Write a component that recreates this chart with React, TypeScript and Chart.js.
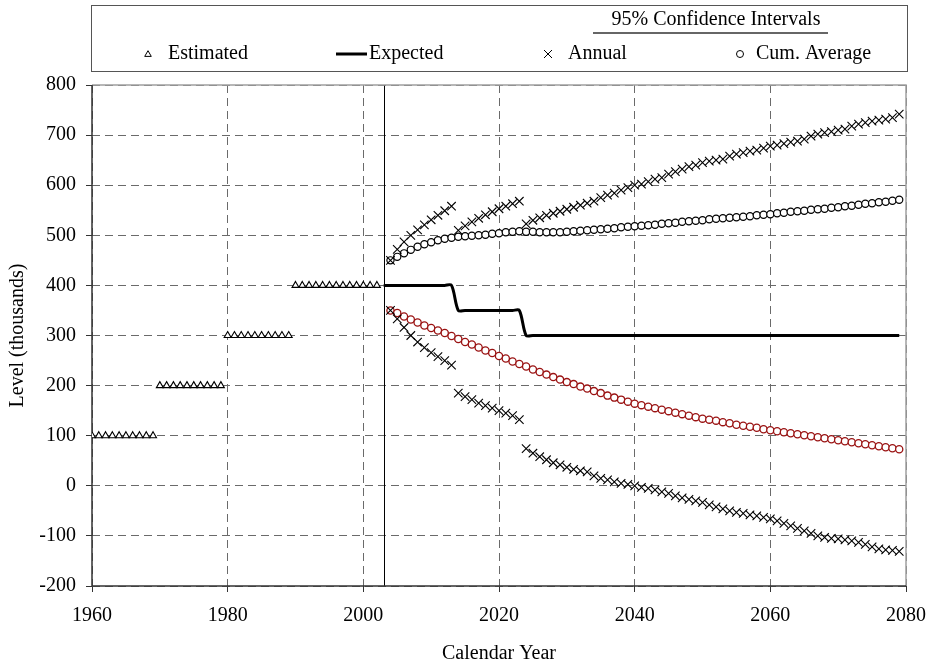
import React, { useEffect, useRef } from "react";
import { Chart, registerables } from "chart.js";

Chart.register(...registerables);

const FONT = '"Liberation Serif", "Times New Roman", Times, serif';

// ---- Axis / tick labels ----
const X_MIN = 1960;
const X_MAX = 2080;
const X_STEP = 20;
const Y_MIN = -200;
const Y_MAX = 800;
const Y_STEP = 100;
const X_TITLE = "Calendar Year";
const Y_TITLE = "Level (thousands)";
const CI_HEADER = "95% Confidence Intervals";
const PROJECTION_YEAR = 2003;

// ---- Series ----
const ESTIMATED_START = 1960;
const estimated = [
  100, 100, 100, 100, 100, 100, 100, 100, 100, 100,
  200, 200, 200, 200, 200, 200, 200, 200, 200, 200,
  300, 300, 300, 300, 300, 300, 300, 300, 300, 300,
  400, 400, 400, 400, 400, 400, 400, 400, 400, 400, 400, 400, 400,
];

const EXPECTED_START = 2003;
const expected = [
  400, 400, 400, 400, 400, 400, 400, 400, 400, 400, 400,
  350, 350, 350, 350, 350, 350, 350, 350, 350, 350,
  300, 300, 300, 300, 300, 300, 300, 300, 300, 300,
  300, 300, 300, 300, 300, 300, 300, 300, 300, 300,
  300, 300, 300, 300, 300, 300, 300, 300, 300, 300,
  300, 300, 300, 300, 300, 300, 300, 300, 300, 300,
  300, 300, 300, 300, 300, 300, 300, 300, 300, 300,
  300, 300, 300, 300, 300, 300,
];

const CI_START = 2004;
const annualUpper = [
  450, 472, 487, 500, 511, 521, 531, 540, 549, 558,
  510, 519, 527, 534, 541, 547, 553, 558, 563, 568,
  523, 530, 535, 540, 544, 548, 552, 556, 560, 564,
  568, 575, 580, 584, 590, 595, 600, 602, 607, 612,
  615, 622, 627, 632, 637, 640, 645, 648, 650, 652,
  658, 662, 665, 668, 670, 674, 678, 680, 683, 686,
  688, 692, 698, 702, 705, 707, 710, 712, 718, 722,
  725, 728, 730, 732, 735, 742,
];
const annualLower = [
  350, 333, 316, 300, 287, 276, 266, 258, 250, 241,
  185, 178, 172, 165, 160, 155, 150, 145, 140, 132,
  74, 65, 58, 52, 46, 42, 37, 33, 30, 28,
  20, 15, 12, 8, 5, 3, 0, -3, -5, -8,
  -12, -15, -20, -24, -27, -30, -33, -38, -42, -46,
  -50, -53, -55, -58, -60, -63, -66, -70, -75, -80,
  -85, -90, -95, -100, -103, -105, -106, -108, -110, -113,
  -117, -122, -126, -128, -129, -131,
];
const cumUpper = [
  450, 457, 464, 471, 477, 482, 486, 490, 493, 495,
  497, 498, 499, 500, 501, 503, 504, 506, 507, 508,
  507, 507, 506, 506, 506, 506, 507, 508, 509, 510,
  511, 512, 513, 514, 516, 517, 518, 519, 520, 521,
  523, 524, 525, 527, 528, 529, 530, 532, 533, 534,
  535, 536, 537, 538, 540, 541, 542, 544, 545, 547,
  548, 549, 551, 552, 553, 555, 556, 558, 559, 561,
  563, 564, 566, 567, 569, 571,
];
const cumLower = [
  350, 345, 338, 332, 326, 320, 315, 310, 305, 299,
  293, 287, 282, 276, 270, 265, 259, 254, 248, 243,
  238, 232, 227, 222, 217, 212, 207, 203, 198, 194,
  189, 185, 180, 176, 172, 168, 164, 161, 158, 155,
  152, 149, 146, 143, 140, 137, 134, 132, 130, 127,
  125, 122, 120, 118, 116, 113, 111, 109, 107, 105,
  103, 101, 99, 97, 95, 93, 91, 89, 87, 85,
  83, 81, 79, 77, 75, 73,
];

const toPoints = (start: number, values: number[]) =>
  values.map((v, i) => ({ x: start + i, y: v }));

const BLACK = "#000000";
const DARK_RED = "#9a1212";

function drawTri(ctx: CanvasRenderingContext2D, x: number, y: number, r: number) {
  ctx.beginPath();
  ctx.moveTo(x, y - r);
  ctx.lineTo(x + r * 0.866, y + r * 0.5);
  ctx.lineTo(x - r * 0.866, y + r * 0.5);
  ctx.closePath();
  ctx.fillStyle = "#fff";
  ctx.fill();
  ctx.stroke();
}

const framePlugin = {
  id: "frameAndMarker",
  beforeDatasetsDraw(chart: any) {
    const { ctx, chartArea, scales } = chart;
    const { left, right, top, bottom } = chartArea;
    ctx.save();
    const px = Math.round(scales.x.getPixelForValue(PROJECTION_YEAR)) + 0.5;
    ctx.strokeStyle = "#000";
    ctx.lineWidth = 1;
    ctx.setLineDash([]);
    ctx.beginPath();
    ctx.moveTo(px, top);
    ctx.lineTo(px, bottom);
    ctx.stroke();
    ctx.strokeStyle = "#a0a0a0";
    ctx.lineWidth = 1.5;
    ctx.beginPath();
    ctx.moveTo(left, top);
    ctx.lineTo(right, top);
    ctx.lineTo(right, bottom);
    ctx.stroke();
    ctx.strokeStyle = "#333";
    ctx.lineWidth = 1.5;
    ctx.beginPath();
    ctx.moveTo(left, top);
    ctx.lineTo(left, bottom);
    ctx.lineTo(right, bottom);
    ctx.stroke();
    ctx.restore();
  },
};

const legendPlugin = {
  id: "customLegend",
  afterDraw(chart: any) {
    const ctx: CanvasRenderingContext2D = chart.ctx;
    const ds = chart.data.datasets;
    ctx.save();
    ctx.setLineDash([]);
    ctx.strokeStyle = "#555";
    ctx.lineWidth = 1;
    ctx.strokeRect(91.5, 5.5, 816, 66);

    ctx.font = `20px ${FONT}`;
    ctx.fillStyle = "#000";
    ctx.textBaseline = "middle";
    ctx.textAlign = "center";
    ctx.fillText(CI_HEADER, 716, 20);
    ctx.strokeStyle = "#666";
    ctx.lineWidth = 2;
    ctx.beginPath();
    ctx.moveTo(593, 33);
    ctx.lineTo(828, 33);
    ctx.stroke();

    const y = 54;
    ctx.textAlign = "left";
    ctx.strokeStyle = "#000";
    ctx.lineWidth = 1;
    drawTri(ctx, 148, y + 0.5, 3.8);
    ctx.fillStyle = "#000";
    ctx.fillText(ds[0].label, 168, y);
    ctx.lineWidth = 3;
    ctx.beginPath();
    ctx.moveTo(336, y);
    ctx.lineTo(367, y);
    ctx.stroke();
    ctx.fillText(ds[1].label, 369, y);
    ctx.lineWidth = 1;
    ctx.beginPath();
    ctx.moveTo(544, y - 4);
    ctx.lineTo(552, y + 4);
    ctx.moveTo(552, y - 4);
    ctx.lineTo(544, y + 4);
    ctx.stroke();
    ctx.fillText(ds[2].label, 568, y);
    ctx.beginPath();
    ctx.arc(740, y, 3.5, 0, Math.PI * 2);
    ctx.stroke();
    ctx.fillText(ds[4].label, 756, y);
    ctx.restore();
  },
};

export default function App() {
  const ref = useRef<HTMLCanvasElement | null>(null);

  useEffect(() => {
    if (!ref.current) return;
    const chart = new Chart(ref.current, {
      type: "line",
      data: {
        datasets: [
          {
            label: "Estimated",
            data: toPoints(ESTIMATED_START, estimated),
            showLine: false,
            pointStyle: "triangle",
            pointRadius: 4,
            pointBorderWidth: 1.1,
            borderColor: BLACK,
            backgroundColor: "#ffffff",
          },
          {
            label: "Expected",
            data: toPoints(EXPECTED_START, expected),
            borderColor: BLACK,
            borderWidth: 3,
            pointRadius: 0,
            tension: 0.3,
            fill: false,
          },
          {
            label: "Annual",
            data: toPoints(CI_START, annualUpper),
            showLine: false,
            pointStyle: "crossRot",
            pointRadius: 6,
            pointBorderWidth: 1.1,
            borderColor: BLACK,
            backgroundColor: BLACK,
          },
          {
            label: "Annual (lower)",
            data: toPoints(CI_START, annualLower),
            showLine: false,
            pointStyle: "crossRot",
            pointRadius: 6,
            pointBorderWidth: 1.1,
            borderColor: BLACK,
            backgroundColor: BLACK,
          },
          {
            label: "Cum. Average",
            data: toPoints(CI_START, cumUpper),
            showLine: false,
            pointStyle: "circle",
            pointRadius: 3.6,
            pointBorderWidth: 1.2,
            borderColor: BLACK,
            backgroundColor: "#ffffff",
          },
          {
            label: "Cum. Average (lower)",
            data: toPoints(CI_START, cumLower),
            showLine: false,
            pointStyle: "circle",
            pointRadius: 3.6,
            pointBorderWidth: 1.3,
            borderColor: DARK_RED,
            backgroundColor: "#ffffff",
          },
        ],
      },
      options: {
        animation: false,
        responsive: false,
        devicePixelRatio: 1,
        layout: { padding: { top: 85, right: 20, left: 0, bottom: 0 } },
        plugins: {
          legend: { display: false },
          tooltip: { enabled: false },
        },
        scales: {
          x: {
            type: "linear",
            min: X_MIN,
            max: X_MAX,
            afterFit: (s: any) => {
              s.height = 80;
              s.paddingLeft = 0;
              s.paddingRight = 0;
            },
            ticks: {
              stepSize: X_STEP,
              color: "#000",
              font: { family: FONT, size: 20 },
              padding: 12,
              maxRotation: 0,
              callback: (v: any) => String(v),
            },
            grid: {
              color: "#6a6a6a",
              lineWidth: 1,
              tickLength: 6,
              tickColor: "#333",
              tickBorderDash: [],
              drawOnChartArea: true,
            },
            border: { display: false, dash: [8, 5] },
            title: {
              display: true,
              text: X_TITLE,
              color: "#000",
              font: { family: FONT, size: 20 },
              padding: { top: 0, bottom: 0 },
            },
          },
          y: {
            type: "linear",
            min: Y_MIN,
            max: Y_MAX,
            afterFit: (s: any) => {
              s.width = 92;
            },
            ticks: {
              stepSize: Y_STEP,
              color: "#000",
              font: { family: FONT, size: 20 },
              padding: 10,
            },
            grid: {
              color: "#6a6a6a",
              lineWidth: 1,
              tickLength: 6,
              tickColor: "#333",
              tickBorderDash: [],
            },
            border: { display: false, dash: [8, 5] },
            title: {
              display: true,
              text: Y_TITLE,
              color: "#000",
              font: { family: FONT, size: 20 },
              padding: { top: 6, bottom: 0 },
            },
          },
        },
      },
      plugins: [framePlugin, legendPlugin],
    });
    return () => chart.destroy();
  }, []);

  return (
    <div style={{ position: "absolute", left: 0, top: 0, width: 926, height: 666, background: "#fff" }}>
      <canvas ref={ref} width={926} height={666} style={{ display: "block" }} />
    </div>
  );
}
